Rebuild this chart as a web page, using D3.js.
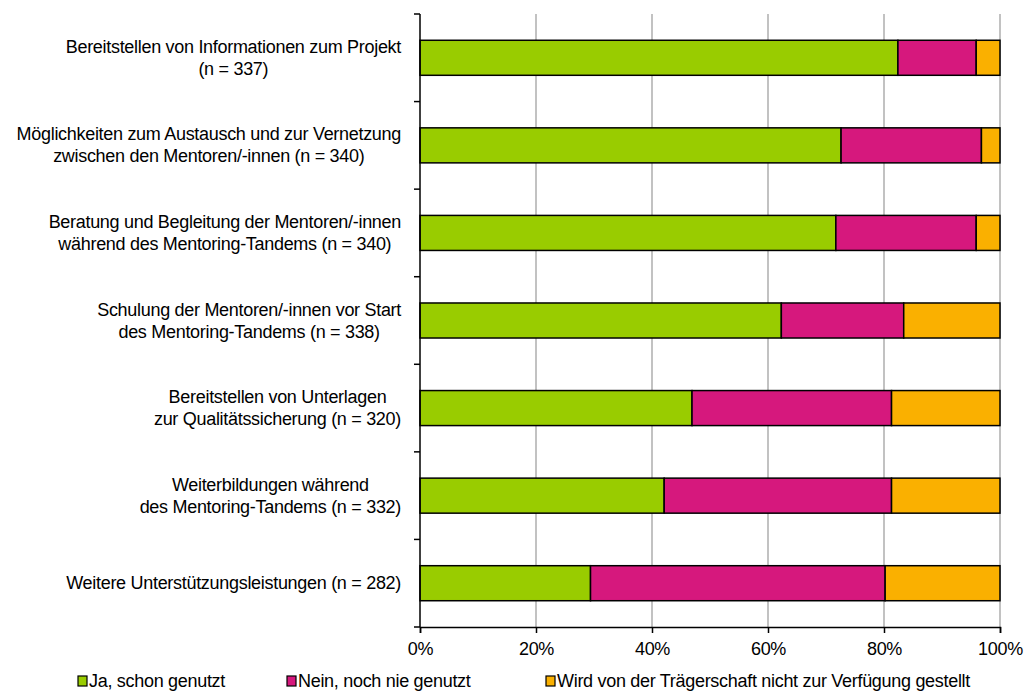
<html>
<head>
<meta charset="utf-8">
<script src="https://cdn.jsdelivr.net/npm/d3@7"></script>
<style>
  body { margin: 0; background: #fff; }
  text { font-family: "Liberation Sans", Arial, sans-serif; fill: #000; }
</style>
</head>
<body>
<div id="chart"></div>
<script>
// categories, each label split into its lines
var categories = [
  ["Bereitstellen von Informationen zum Projekt", "(n = 337)"],
  ["Möglichkeiten zum Austausch und zur Vernetzung", "zwischen den Mentoren/-innen (n = 340)"],
  ["Beratung und Begleitung der Mentoren/-innen", "während des Mentoring-Tandems (n = 340)"],
  ["Schulung der Mentoren/-innen vor Start", "des Mentoring-Tandems (n = 338)"],
  ["Bereitstellen von Unterlagen", "zur Qualitätssicherung (n = 320)"],
  ["Weiterbildungen während", "des Mentoring-Tandems (n = 332)"],
  ["Weitere Unterstützungsleistungen (n = 282)"]
];
var seriesNames = ["Ja, schon genutzt", "Nein, noch nie genutzt", "Wird von der Trägerschaft nicht zur Verfügung gestellt"];
var ja   = [82.4, 72.6, 71.7, 62.3, 46.9, 42.1, 29.4];
var nein = [13.5, 24.2, 24.2, 21.1, 34.4, 39.2, 50.8];
var wird = [4.1, 3.2, 4.1, 16.6, 18.7, 18.7, 19.8];
var xTicks = [0, 20, 40, 60, 80, 100];
var colors = ["#99cc00", "#d6187d", "#fab000"];

var width = 1033, height = 691;
var mLeft = 420, mRight = 1000, mTop = 14, mBottom = 627;
var fontSize = 18, spacing = "-0.3px";

var svg = d3.select("#chart").append("svg")
  .attr("width", width).attr("height", height);

var x = d3.scaleLinear().domain([0, 100]).range([mLeft, mRight]);
var y = d3.scaleBand().domain(d3.range(categories.length)).range([mTop, mBottom]).paddingInner(0.6).paddingOuter(0.3);

// gridlines
svg.selectAll("line.grid").data(xTicks.slice(1)).enter().append("line")
  .attr("x1", function(d) { return x(d); }).attr("x2", function(d) { return x(d); })
  .attr("y1", mTop).attr("y2", mBottom)
  .attr("stroke", "#999").attr("stroke-width", 1.2);

// stacked bars
var rows = categories.map(function(c, i) { return { i: i, v0: ja[i], v1: nein[i], v2: wird[i] }; });
var stack = d3.stack().keys(["v0", "v1", "v2"]);
var layers = stack(rows);

svg.selectAll("g.layer").data(layers).enter().append("g")
  .attr("fill", function(d, i) { return colors[i]; })
  .selectAll("rect").data(function(d) { return d; }).enter().append("rect")
  .attr("x", function(d) { return x(d[0]); })
  .attr("width", function(d) { return x(d[1]) - x(d[0]); })
  .attr("y", function(d) { return y(d.data.i); })
  .attr("height", y.bandwidth())
  .attr("stroke", "#000").attr("stroke-width", 1.5);

// y axis: line with ticks between categories
var bounds = d3.range(categories.length + 1).map(function(i) { return mTop + i * y.step(); });
svg.append("line").attr("x1", mLeft).attr("x2", mLeft).attr("y1", mTop).attr("y2", mBottom)
  .attr("stroke", "#000").attr("stroke-width", 1.5);
svg.selectAll("line.ytick").data(bounds).enter().append("line")
  .attr("x1", mLeft - 6).attr("x2", mLeft).attr("y1", function(d) { return d; }).attr("y2", function(d) { return d; })
  .attr("stroke", "#000").attr("stroke-width", 1.5);

// x axis
var xAxis = svg.append("g").attr("transform", "translate(0," + mBottom + ")")
  .call(d3.axisBottom(x).tickValues(xTicks).tickSize(6).tickPadding(9).tickFormat(function(d) { return d + "%"; }));
xAxis.select(".domain").attr("stroke-width", 1.5);
xAxis.selectAll(".tick line").attr("stroke-width", 1.5);
xAxis.selectAll("text").style("font-size", fontSize + "px").style("letter-spacing", spacing)
  .style("font-family", "'Liberation Sans', Arial, sans-serif");

// category labels, lines centred on each other, block right-aligned at the axis
var lineH = 22;
categories.forEach(function(lines, i) {
  var g = svg.append("g");
  var texts = lines.map(function(s, k) {
    return g.append("text").text(s)
      .attr("font-size", fontSize).attr("letter-spacing", spacing)
      .attr("text-anchor", "middle")
      .attr("y", y(i) + y.bandwidth() / 2 + (k - (lines.length - 1) / 2) * lineH + 6);
  });
  var w = d3.max(texts, function(t) { return t.node().getComputedTextLength(); });
  texts.forEach(function(t) { t.attr("x", 401 - w / 2); });
});

// legend
var legX = [78, 287, 546];
var legend = svg.selectAll("g.legend").data(seriesNames).enter().append("g")
  .attr("transform", function(d, i) { return "translate(" + legX[i] + ",681)"; });
legend.append("rect").attr("x", 0).attr("y", -5).attr("width", 9).attr("height", 10)
  .attr("fill", function(d, i) { return colors[i]; }).attr("stroke", "#000").attr("stroke-width", 1.2);
legend.append("text").attr("x", 11).attr("y", 6).text(function(d) { return d; })
  .attr("font-size", fontSize).attr("letter-spacing", spacing);
</script>
</body>
</html>
